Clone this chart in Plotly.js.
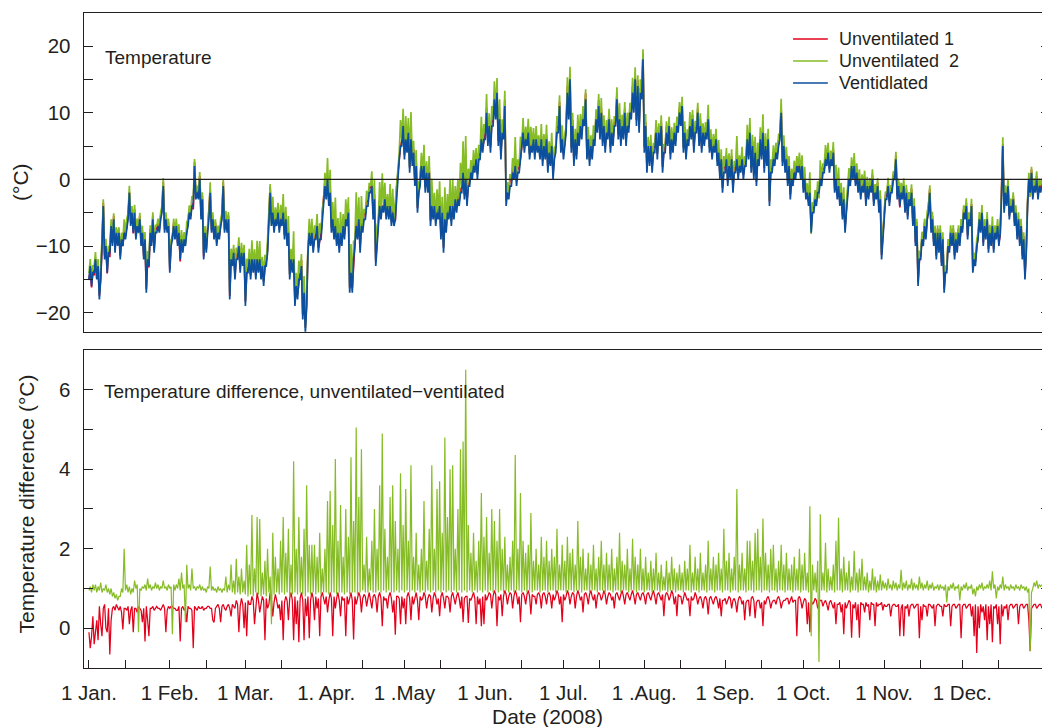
<!DOCTYPE html>
<html>
<head>
<meta charset="utf-8">
<script src="https://cdn.plot.ly/plotly-3.0.1.min.js"></script>
<style>
  html, body { margin: 0; padding: 0; overflow: hidden; background: #fff; }
  #chart { width: 1052px; height: 727px; }
</style>
</head>
<body>
<div id="chart"></div>
<script>
// Sampling: two readings per day (00:00 and 12:00), starting 1 Jan 2008.
const startDate = '2008-01-01T00:00:00';
const stepHours = 12;

// Ventilated sensor temperature (°C)
const ventilated = [
  // Jan
  -15,-13, -16,-14, -14,-12, -15,-13, -18,-15, -10,-4, -12,-10, -14,-11, -11,-7, -10,-6,
  -11,-8, -10,-8, -12,-9, -10,-8, -9,-7, -6,-2, -7,-5, -8,-5, -9,-7, -8,-6,
  -10,-8, -12,-9, -17,-12, -13,-8, -10,-6, -11,-8, -8,-7, -8,-6, -5,-1, -8,-6, -8,-7,
  // Feb
  -14,-10, -9,-7, -9,-7, -10,-8, -12,-9, -11,-9, -10,-8, -7,-5, -6,-4, -4,2,
  -3,-2, -3,0, -6,-3, -12,-8, -11,-8, -6,-2, -8,-6, -9,-7, -10,-8, -9,-7,
  -6,-1, -8,-6, -8,-6, -18,-12, -13,-11, -15,-12, -12,-10, -14,-11, -13,-11,
  // Mar
  -19,-14, -14,-12, -15,-12, -14,-12, -15,-12, -14,-12, -15,-13, -16,-13, -13,-11, -6,-2,
  -7,-5, -8,-6, -7,-5, -8,-6, -7,-5, -9,-6, -10,-8, -15,-12, -14,-12, -19,-16,
  -18,-15, -15,-13, -21,-17, -23,-19, -11,-8, -10,-8, -11,-9, -9,-7, -11,-9, -9,-6, -4,-1,
  // Apr
  -3,0, -4,-2, -8,-6, -9,-7, -10,-8, -11,-8, -10,-7, -9,-6, -7,-5, -17,-14,
  -17,-12, -10,-7, -9,-6, -11,-7, -8,-6, -6,-4, -4,-2, -2,-1, -6,-3, -13,-9,
  -7,-4, -6,-4, -5,-3, -6,-4, -6,-4, -7,-5, -7,-6, -2,0, 3,5, 5,8,
  // May
  3,6, 4,7, 1,6, 2,4, -1,2, -5,-2, -1,2, 0,2, -2,1, -2,1,
  -7,-4, -6,-4, -7,-5, -6,-4, -9,-5, -11,-6, -8,-5, -6,-4, -7,-4, -6,-3,
  -5,-3, -4,-2, -2,1, -3,0, -4,-1, -1,1, 0,2, 1,3, 0,3, 3,6, 4,6,
  // Jun
  6,10, 5,8, 4,8, 8,12, 9,13, 5,9, 3,7, 6,11, -4,-2, -3,-1,
  -1,1, 0,2, -1,1, 1,3, 4,7, 4,6, 5,7, 3,5, 4,6, 3,6,
  4,5, 3,6, 2,5, 3,6, 1,4, 2,5, 0,3, 4,7, 7,11, 4,6,
  // Jul
  3,5, 7,13, 9,15, 4,8, 2,6, 3,7, 5,8, 6,9, 8,12, 3,6,
  2,5, 3,6, 5,9, 7,11, 6,10, 5,8, 4,7, 6,9, 4,7, 5,8,
  8,12, 6,9, 5,8, 6,10, 5,8, 7,10, 9,13, 10,15, 8,14, 7,13, 12,18,
  // Aug
  4,8, 1,5, 2,5, 1,4, 4,7, 3,7, 5,8, 1,4, 4,7, 5,8,
  3,6, 4,7, 5,8, 7,10, 8,11, 4,7, 3,6, 5,8, 6,9, 4,7,
  7,10, 5,8, 4,7, 5,7, 6,9, 4,6, 3,5, 4,6, 2,4, 0,3, -2,1,
  // Sep
  1,3, -1,2, 0,3, -2,1, 1,3, 0,2, 1,3, 0,2, 2,6, 3,7,
  1,5, 0,4, -1,3, 2,6, 3,7, 1,5, 2,6, -4,1, 1,3, 2,4,
  3,5, 6,10, 2,5, 1,3, -1,2, -3,0, -1,1, 0,2, 1,2, 0,2,
  // Oct
  -2,0, -3,-2, -4,-2, -8,-5, -5,-3, -4,-2, -2,0, -1,1, 1,3, 2,4,
  1,3, 2,4, -2,0, -3,-1, -4,-2, -6,-3, -8,-5, -2,0, -1,2, 0,2,
  -1,1, -2,0, -3,-1, -2,0, -4,-1, -3,-1, -2,0, -4,-2, -3,-1, -5,-3, -12,-9,
  // Nov
  -5,-3, -3,-1, -4,-2, -2,0, 0,3, -3,-1, -4,-2, -3,-1, -5,-2, -6,-3,
  -4,-2, -7,-4, -10,-7, -16,-12, -12,-9, -10,-7, -9,-6, -5,-2, -8,-6, -10,-8,
  -12,-8, -11,-8, -13,-9, -17,-14, -14,-10, -11,-8, -10,-8, -12,-9, -11,-8, -10,-7,
  // Dec
  -8,-5, -6,-4, -9,-6, -7,-4, -14,-12, -13,-10, -9,-6, -8,-5, -10,-7, -9,-6,
  -11,-8, -10,-7, -11,-8, -9,-7, -10,-8, -3,5, -5,-2, -4,-1, -6,-4, -5,-3,
  -7,-5, -9,-6, -10,-7, -12,-9, -15,-11, -4,0, -2,1, -3,-1, -2,0, -3,-1, -2,-1
];

// Unventilated 1 minus ventilated (°C)
const diffUnvent1 = [
  // Jan
  -0.1,-0.5, -0.2,0.3, -0.4,0.0, 0.2,-0.3, 0.55,0.1, -0.2,0.5, 0.6,0.0, -0.1,0.5, -0.66,0.2, 0.5,0.55,
  0.45,0.6, 0.5,0.45, 0.55,0.4, -0.03,0.5, 0.5,0.45, 0.55,0.1, 0.45,0.55, -0.1,0.5, 0.5,0.4, 0.55,0.5,
  0.45,0.15, 0.5,-0.33, 0.55,0.2, -0.2,0.5, 0.5,0.55, 0.45,0.5, 0.55,0.5, 0.5,0.45, 0.55,0.6, 0.5,-0.1, 0.45,0.55,
  // Feb
  0.5,0.55, 0.55,0.5, 0.5,0.45, 0.45,0.55, -0.33,0.5, 0.55,0.45, 0.5,0.15, 0.55,0.5, 0.5,0.45, -0.5,0.55,
  0.5,0.45, 0.55,0.5, 0.5,0.55, 0.45,0.5, 0.5,0.55, 0.55,0.5, 0.5,0.2, 0.15,0.5, 0.55,0.6, 0.5,0.15,
  0.55,0.6, 0.5,0.45, 0.55,0.6, 0.5,0.3, 0.6,0.55, 0.5,0.7, 0.6,-0.1, 0.55,0.75, 0.6,0.0,
  // Mar
  0.65,-0.2, 0.7,0.6, 0.6,0.8, 0.7,0.1, 0.65,0.9, 0.7,0.4, 0.6,0.8, 0.7,-0.3, 0.75,0.5, 0.6,0.9,
  0.7,0.3, 0.65,0.85, 0.7,0.5, 0.6,0.2, 0.7,-0.3, 0.65,0.8, 0.7,0.2, 0.75,0.9, 0.7,-0.3, 0.8,0.1,
  0.7,-0.35, 0.75,0.9, 0.7,-0.3, 0.75,0.3, 0.8,-0.25, 0.7,0.9, 0.75,0.2, 0.8,0.5, 0.75,-0.2, 0.8,0.9, 0.75,0.6,
  // Apr
  0.8,0.4, 0.7,0.9, 0.75,-0.2, 0.8,0.5, 0.75,0.9, 0.7,0.3, 0.8,0.7, 0.75,-0.2, 0.8,0.6, 0.75,0.9,
  0.7,-0.28, 0.8,0.6, 0.75,0.9, 0.8,0.4, 0.75,0.85, 0.8,0.55, 0.75,0.9, 0.7,0.5, 0.8,0.85, 0.75,0.4,
  0.8,0.9, 0.75,0.05, 0.8,0.7, 0.75,0.5, 0.8,0.9, 0.75,0.4, 0.7,-0.16, 0.8,0.8, 0.75,0.1, 0.8,0.5,
  // May
  0.75,0.1, 0.8,0.9, 0.75,0.2, 0.8,0.6, 0.75,0.9, 0.7,0.2, 0.8,0.7, 0.75,0.9, 0.8,0.5, 0.75,0.85,
  0.8,0.4, 0.75,0.9, 0.8,0.6, 0.75,0.3, 0.8,0.9, 0.75,0.5, 0.8,0.8, 0.75,0.4, 0.8,0.9, 0.75,0.6,
  0.8,0.9, 0.75,0.5, 0.8,0.15, 0.75,0.8, 0.8,0.13, 0.75,0.7, 0.8,0.9, 0.75,0.1, 0.8,0.6, 0.75,0.05, 0.8,0.1,
  // Jun
  0.85,0.7, 0.8,0.9, 0.85,0.5, 0.8,0.95, 0.85,0.05, 0.8,0.7, 0.85,0.3, 0.8,0.95, 0.85,0.6, 0.8,0.9,
  0.85,0.5, 0.8,0.95, 0.85,0.6, 0.8,0.15, 0.85,0.9, 0.8,0.6, 0.85,0.95, 0.8,0.35, 0.85,0.8, 0.8,0.6,
  0.85,0.9, 0.8,0.5, 0.85,0.9, 0.8,0.6, 0.85,0.9, 0.8,0.5, 0.85,0.7, 0.8,0.95, 0.85,0.6, 0.8,0.15,
  // Jul
  0.85,0.7, 0.8,0.95, 0.85,0.6, 0.8,0.9, 0.85,0.5, 0.8,0.95, 0.85,0.7, 0.8,0.4, 0.85,0.9, 0.8,0.6,
  0.85,0.95, 0.8,0.7, 0.85,0.5, 0.8,0.9, 0.85,0.7, 0.8,0.95, 0.85,0.6, 0.8,0.9, 0.85,0.7, 0.8,0.5,
  0.85,0.9, 0.8,0.7, 0.85,0.95, 0.8,0.6, 0.85,0.9, 0.8,0.7, 0.85,0.95, 0.8,0.6, 0.85,0.9, 0.8,0.7, 0.85,0.9,
  // Aug
  0.8,0.6, 0.85,0.9, 0.8,0.7, 0.85,0.95, 0.8,0.6, 0.85,0.9, 0.8,0.7, 0.85,0.3, 0.8,0.9, 0.85,0.7,
  0.8,0.95, 0.85,0.6, 0.8,0.3, 0.85,0.8, 0.8,0.6, 0.75,0.9, 0.8,0.7, 0.75,0.3, 0.8,0.7, 0.75,0.9,
  0.8,0.6, 0.75,0.8, 0.7,0.5, 0.75,0.8, 0.7,0.35, 0.75,0.8, 0.7,0.6, 0.75,0.8, 0.7,0.5, 0.75,0.3, 0.7,0.7,
  // Sep
  0.75,0.6, 0.7,0.8, 0.75,0.5, 0.7,0.75, 0.65,0.4, 0.7,0.8, 0.75,0.6, 0.7,0.2, 0.65,0.7, 0.7,0.3,
  0.75,0.8, 0.7,0.25, 0.65,0.7, 0.7,0.5, 0.65,0.05, 0.7,0.6, 0.75,0.8, 0.7,0.5, 0.65,0.7, 0.7,0.6,
  0.75,0.8, 0.7,0.5, 0.65,0.7, 0.7,0.75, 0.75,0.6, 0.7,0.8, 0.65,0.7, 0.7,-0.2, 0.75,0.8, 0.7,0.5,
  // Oct
  0.65,0.75, 0.7,0.1, 0.65,-0.1, 0.7,0.6, 0.65,0.75, 0.7,0.5, 0.65,0.7, 0.7,0.55, 0.65,0.7, 0.6,0.45,
  0.65,0.7, 0.6,0.5, 0.65,0.1, 0.6,0.6, 0.65,0.4, 0.6,-0.15, 0.65,0.5, 0.6,0.7, 0.65,-0.24, 0.6,0.5,
  0.65,0.2, 0.6,-0.24, 0.65,0.6, 0.6,0.4, 0.65,0.55, 0.6,0.2, 0.65,0.6, 0.6,0.05, 0.65,0.55, 0.6,0.6, 0.65,0.45,
  // Nov
  0.6,0.55, 0.55,0.6, 0.6,0.3, 0.55,0.6, 0.6,0.55, 0.55,0.6, -0.2,0.5, 0.6,-0.2, 0.55,0.5, 0.6,0.3,
  0.55,0.6, 0.6,0.5, 0.55,0.6, 0.6,-0.25, 0.55,0.2, 0.6,0.55, 0.55,0.3, 0.6,0.6, 0.55,0.5, 0.6,0.05,
  0.55,0.6, 0.6,0.55, 0.55,0.3, 0.6,0.55, 0.55,0.6, 0.6,0.05, 0.55,0.6, 0.6,0.5, 0.55,0.6, 0.6,-0.25,
  // Dec
  0.55,0.6, 0.6,0.5, 0.55,0.6, 0.6,0.3, 0.55,-0.2, 0.6,-0.62, 0.55,0.0, 0.6,0.4, 0.55,0.2, 0.6,-0.3,
  0.55,0.1, 0.6,-0.35, 0.55,0.5, 0.6,0.1, 0.55,-0.4, 0.6,0.3, 0.55,0.5, 0.6,0.2, 0.55,0.6, 0.6,0.5,
  0.55,0.6, 0.6,0.1, 0.55,0.6, 0.6,0.5, 0.55,0.6, 0.6,0.2, -0.58,0.5, 0.55,0.6, 0.6,0.5, 0.55,0.6, 0.6,0.5
];

// Unventilated 2 minus ventilated (°C)
const diffUnvent2 = [
  // Jan
  0.95,1.05, 0.9,1.1, 0.95,1.1, 0.9,1.05, 0.95,1.15, 0.9,1.0, 0.95,1.1, 0.9,1.0, 0.85,1.0, 0.8,0.9,
  0.75,0.85, 0.7,0.8, 0.8,1.0, 0.9,2.0, 0.95,1.1, 0.9,1.05, 0.85,1.0, 0.9,1.2, 1.0,1.1, -0.1,1.0,
  0.95,1.05, 1.0,1.1, 0.95,1.25, 1.0,1.1, 0.95,1.05, 1.0,1.15, 1.0,1.1, 0.95,1.05, 1.0,1.2, 1.0,1.05, 0.95,1.1,
  // Feb
  1.0,1.05, -0.15,1.1, 0.95,1.1, 1.0,1.25, 0.95,1.4, 1.0,1.1, 0.15,1.6, 1.0,1.1, 0.95,1.5, 1.0,1.05,
  0.95,1.05, 1.0,1.1, 0.95,1.05, 0.95,1.0, 0.9,1.05, 1.0,1.55, 0.95,1.05, 0.95,1.0, 0.9,1.05, 0.95,1.0,
  0.9,1.0, 0.95,1.3, 0.9,1.1, 0.95,1.6, 0.9,1.2, 0.85,1.75, 0.9,1.3, 0.85,1.5, 0.9,1.2,
  // Mar
  0.85,2.1, 0.8,1.6, 0.85,2.85, 0.8,1.5, 0.9,2.8, 0.85,2.75, 0.8,1.4, 0.85,1.7, 0.8,2.0, 0.9,1.3,
  0.1,2.4, 0.85,1.8, 0.9,1.5, 0.85,2.2, 0.9,2.8, 0.85,1.9, 0.9,2.5, 0.8,1.6, 0.85,4.2, 0.9,2.0,
  0.85,2.8, 0.9,1.8, 0.85,2.5, 0.8,3.6, 0.9,2.1, 0.85,2.1, 0.9,2.1, 0.85,1.8, 0.9,2.4, 0.85,1.5, 0.9,2.0,
  // Apr
  0.9,3.2, 0.85,3.45, 0.9,2.6, 0.9,4.26, 0.85,2.2, 0.9,3.1, 0.9,1.8, 0.85,3.0, 0.9,2.3, 0.85,4.3,
  0.9,2.7, 0.9,5.05, 0.85,3.3, 0.9,4.5, 0.95,1.6, 0.9,2.3, 0.9,1.5, 0.95,2.2, 0.9,3.0, 0.9,2.0,
  0.95,3.6, 0.9,4.9, 0.95,2.5, 0.9,1.8, 0.95,3.3, 0.9,3.6, 0.9,2.7, 0.95,2.0, 0.9,3.9, 0.95,2.6,
  // May
  0.9,3.5, 0.95,2.2, 0.9,4.1, 0.95,1.8, 0.9,2.4, 0.95,1.6, 0.9,2.0, 0.95,3.2, 0.9,1.7, 0.95,2.5,
  0.9,4.1, 0.95,2.0, 0.9,3.5, 0.95,3.7, 0.9,2.4, 0.95,4.8, 0.9,2.8, 0.95,4.0, 0.9,4.1, 0.95,2.0,
  0.9,3.0, 0.95,4.5, 0.9,4.7, 0.95,6.5, 0.9,2.6, 0.95,1.9, 0.9,2.4, 0.95,1.7, 0.9,2.2, 0.95,3.4, 0.9,2.3,
  // Jun
  0.95,2.8, 0.9,1.9, 0.95,3.0, 0.9,2.7, 0.95,2.2, 0.9,3.0, 0.95,2.0, 0.9,2.3, 0.95,1.6, 0.9,1.8,
  0.95,2.2, 0.9,4.36, 0.95,2.0, 0.95,3.4, 0.9,2.2, 0.95,1.9, 0.9,2.1, 0.95,2.9, 0.9,1.7, 0.95,2.0,
  0.95,1.6, 0.9,2.3, 0.95,1.8, 0.95,2.2, 0.9,1.7, 0.95,2.0, 0.95,1.8, 0.9,2.5, 0.95,1.6, 0.95,2.1,
  // Jul
  0.95,1.7, 0.9,2.3, 0.95,1.9, 0.95,2.0, 0.9,1.6, 0.95,2.7, 0.95,1.8, 0.9,2.0, 0.95,1.5, 0.95,1.9,
  0.9,1.6, 0.95,2.1, 0.95,1.5, 0.9,1.8, 0.95,2.2, 0.95,1.6, 0.9,1.9, 0.95,1.6, 0.95,2.0, 0.9,1.5,
  0.95,1.8, 0.95,2.4, 0.9,1.7, 0.95,1.6, 0.95,2.0, 0.9,1.5, 0.95,2.25, 0.95,1.8, 0.9,1.6, 0.95,2.0, 0.95,1.5,
  // Aug
  0.9,1.8, 0.95,1.4, 0.95,1.7, 0.9,1.5, 0.95,1.9, 0.95,1.4, 0.9,1.6, 0.95,1.3, 0.95,1.7, 0.9,1.4,
  0.95,1.8, 0.95,1.5, 0.9,1.4, 0.95,1.6, 0.95,1.4, 0.9,1.7, 0.95,1.5, 0.95,2.1, 0.9,1.4, 0.95,1.8,
  0.95,1.5, 0.9,1.9, 0.95,1.4, 0.95,1.6, 0.9,2.2, 0.95,1.5, 0.95,1.8, 0.9,1.6, 0.95,1.9, 0.95,1.5, 0.9,2.5,
  // Sep
  0.95,1.7, 0.95,1.9, 0.9,1.5, 0.95,1.8, 0.95,3.5, 0.9,1.6, 0.95,1.9, 0.95,1.5, 0.9,2.2, 0.95,2.2,
  0.95,1.7, 0.9,2.4, 0.95,2.5, 0.95,1.8, 0.9,2.76, 0.95,1.9, 0.95,1.6, 0.9,2.0, 0.95,2.1, 0.95,1.5,
  0.9,1.7, 0.95,2.1, 0.95,1.6, 0.9,1.9, 0.95,1.5, 0.95,1.6, 0.9,1.8, 0.95,1.5, 0.95,2.0, 0.9,1.6,
  // Oct
  0.95,1.9, 0.95,1.4, 0.9,3.07, -0.2,1.6, 0.95,1.4, 0.9,1.7, -0.85,2.87, 0.95,1.4, 0.95,2.15, 0.9,1.5,
  0.95,1.3, 0.95,1.6, 0.9,2.2, 0.95,2.78, 0.95,1.5, 0.9,1.8, 0.95,1.4, 0.95,1.7, 0.9,1.3, 0.95,1.95,
  0.95,1.4, 0.9,1.5, 0.95,1.75, 0.95,1.3, 0.95,1.4, 0.9,1.2, 0.95,1.5, 0.95,1.3, 0.9,1.2, 0.95,1.35, 0.95,1.2,
  // Nov
  1.0,1.15, 0.95,1.25, 1.0,1.1, 0.95,1.2, 1.0,1.15, 0.95,1.1, 1.0,1.47, 0.95,1.15, 1.0,1.2, 0.95,1.1,
  1.0,1.25, 0.95,1.15, 1.0,1.1, 0.95,1.3, 1.0,1.15, 0.95,1.1, 1.0,1.2, 0.95,1.1, 1.0,1.15, 0.95,1.05,
  1.0,1.1, 0.95,1.1, 1.0,1.05, 0.95,1.1, 0.65,1.05, 0.95,1.1, 1.0,1.15, 0.95,1.05, 1.0,1.1, 0.7,1.05,
  // Dec
  0.95,1.1, 1.0,1.15, 0.95,1.05, 1.0,1.1, 0.85,1.0, 0.8,1.05, 0.95,1.1, 1.0,1.15, 0.95,1.05, 1.0,1.1,
  1.0,1.2, 0.95,1.43, 1.0,1.1, 0.75,1.05, 0.95,1.1, 1.0,1.3, 0.95,1.1, 1.0,1.05, 0.95,1.1, 1.0,1.05,
  0.95,1.1, 1.0,1.05, 0.95,1.1, 1.0,1.05, 0.95,1.05, 0.9,1.0, -0.57,0.9, 1.0,1.15, 1.05,1.2, 1.0,1.1, 1.05,1.1
];

// Axis tick positions and labels
const monthTickDates = [
  '2008-01-01','2008-01-15','2008-02-01','2008-02-15','2008-03-01','2008-03-15',
  '2008-04-01','2008-04-15','2008-05-01','2008-05-15','2008-06-01','2008-06-15',
  '2008-07-01','2008-07-15','2008-08-01','2008-08-15','2008-09-01','2008-09-15',
  '2008-10-01','2008-10-15','2008-11-01','2008-11-15','2008-12-01','2008-12-15'
];
const monthTickLabels = [
  '1 Jan.','','1 Feb.','','1 Mar.','','1. Apr.','','1 .May','','1 Jun.','',
  '1 Jul.','','1 .Aug.','','1 Sep.','','1 Oct.','','1 Nov.','','1 Dec.',''
];
const tempTickVals = [-20,-15,-10,-5,0,5,10,15,20];
const tempTickText = ['\u221220','','\u221210','','0','','10','','20'];
const diffTickVals = [0,1,2,3,4,5,6];
const diffTickText = ['0','','2','','4','','6'];

const seriesNames = ['Unventilated 1', 'Unventilated  2', 'Ventidlated'];
const seriesColors = ['#e3001b', '#86bc25', '#0b4f9e'];

// ---- build time axis ----
const n = Math.min(ventilated.length, diffUnvent1.length, diffUnvent2.length);
const t0 = new Date(startDate + 'Z').getTime();
function stamp(i) {
  const d = new Date(t0 + i * stepHours * 3600 * 1000);
  return d.toISOString().slice(0, 19).replace('T', ' ');
}
const times = [];
for (let i = 0; i < n; i++) times.push(stamp(i));

const vent = ventilated.slice(0, n);
const d1 = diffUnvent1.slice(0, n);
const d2 = diffUnvent2.slice(0, n);
const unvent1 = vent.map((v, i) => v + d1[i]);
const unvent2 = vent.map((v, i) => v + d2[i]);

const FONT = 'Liberation Sans, Arial, Helvetica, sans-serif';
const INK = '#231f20';
const TICK_SIZE = 20.5;

const traces = [
  // upper panel: temperatures
  { x: times, y: unvent1, xaxis: 'x2', yaxis: 'y2', mode: 'lines', name: seriesNames[0],
    line: { color: seriesColors[0], width: 1.7 }, showlegend: false },
  { x: times, y: unvent2, xaxis: 'x2', yaxis: 'y2', mode: 'lines', name: seriesNames[1],
    line: { color: seriesColors[1], width: 1.7 }, showlegend: false },
  { x: times, y: vent, xaxis: 'x2', yaxis: 'y2', mode: 'lines', name: seriesNames[2],
    line: { color: seriesColors[2], width: 1.7 }, showlegend: false },
  // lower panel: differences
  { x: times, y: d1, xaxis: 'x', yaxis: 'y', mode: 'lines', name: seriesNames[0],
    line: { color: seriesColors[0], width: 1.25 }, showlegend: false },
  { x: times, y: d2, xaxis: 'x', yaxis: 'y', mode: 'lines', name: seriesNames[1],
    line: { color: seriesColors[1], width: 1.2 }, showlegend: false }
];

const xRange = ['2007-12-30 02:24', '2009-01-03 14:24'];
const frame = { showline: true, linecolor: INK, linewidth: 1.4, mirror: true };

// legend drawn as short line samples with labels
const legendRows = [0.9603, 0.9267, 0.8931];
const shapes = [
  { type: 'line', xref: 'x2 domain', x0: 0, x1: 1, yref: 'y2', y0: 0, y1: 0,
    line: { color: INK, width: 1.2 }, layer: 'above' }
];
const annotations = [];
seriesNames.forEach((nm, k) => {
  shapes.push({ type: 'line', xref: 'paper', yref: 'paper', x0: 0.734, x1: 0.770,
    y0: legendRows[k], y1: legendRows[k], line: { color: seriesColors[k], width: 1.6 } });
  annotations.push({ xref: 'paper', yref: 'paper', x: 0.7795, y: legendRows[k],
    xanchor: 'left', yanchor: 'middle', showarrow: false, text: nm,
    font: { family: FONT, size: 18, color: INK } });
});
annotations.push(
  { xref: 'paper', yref: 'paper', x: 0.0197, y: 0.9328, xanchor: 'left', yanchor: 'middle',
    showarrow: false, text: 'Temperature', font: { family: FONT, size: 19, color: INK } },
  { xref: 'paper', yref: 'paper', x: 0.0187, y: 0.4218, xanchor: 'left', yanchor: 'middle',
    showarrow: false, text: 'Temperature difference, unventilated\u2212ventilated',
    font: { family: FONT, size: 19, color: INK } },
  { xref: 'paper', yref: 'paper', x: -0.0652, y: 0.742, xanchor: 'center', yanchor: 'middle',
    showarrow: false, text: '(\u00b0C)', textangle: -90, font: { family: FONT, size: 21, color: INK } },
  { xref: 'paper', yref: 'paper', x: -0.059, y: 0.2496, xanchor: 'center', yanchor: 'middle',
    showarrow: false, text: 'Temperature difference (\u00b0C)', textangle: -90,
    font: { family: FONT, size: 21, color: INK } },
  { xref: 'paper', yref: 'paper', x: 0.4803, y: -0.0748, xanchor: 'center', yanchor: 'middle',
    showarrow: false, text: 'Date (2008)', font: { family: FONT, size: 21, color: INK } }
);

const layout = {
  width: 1052, height: 727,
  margin: { l: 84, r: 2, t: 13, b: 59 },
  paper_bgcolor: '#fff', plot_bgcolor: '#fff',
  font: { family: FONT, size: TICK_SIZE, color: INK },
  showlegend: false,
  xaxis: Object.assign({ type: 'date', range: xRange, domain: [0, 1], anchor: 'y',
    tickmode: 'array', tickvals: monthTickDates, ticktext: monthTickLabels,
    ticks: 'inside', ticklen: 8, tickwidth: 1, tickcolor: INK, ticklabelstandoff: 6,
    tickfont: { family: FONT, size: TICK_SIZE, color: INK }, showgrid: false, zeroline: false }, frame),
  yaxis: Object.assign({ range: [-1, 7], domain: [0, 0.4855], anchor: 'x',
    tickmode: 'array', tickvals: diffTickVals, ticktext: diffTickText,
    ticks: 'inside', ticklen: 9, tickwidth: 1, tickcolor: INK, ticklabelstandoff: 8,
    tickfont: { family: FONT, size: TICK_SIZE, color: INK }, showgrid: false, zeroline: false }, frame,
    { mirror: 'ticks' }),
  xaxis2: Object.assign({ type: 'date', range: xRange, domain: [0, 1], anchor: 'y2',
    showticklabels: false, ticks: '', showgrid: false, zeroline: false }, frame),
  yaxis2: Object.assign({ range: [-22.85, 24.95], domain: [0.5134, 1], anchor: 'x2',
    tickmode: 'array', tickvals: tempTickVals, ticktext: tempTickText,
    ticks: 'inside', ticklen: 9, tickwidth: 1, tickcolor: INK, ticklabelstandoff: 8,
    tickfont: { family: FONT, size: TICK_SIZE, color: INK }, showgrid: false, zeroline: false }, frame,
    { mirror: 'ticks' }),
  shapes: shapes,
  annotations: annotations
};

Plotly.newPlot('chart', traces, layout, { staticPlot: true, displayModeBar: false });
</script>
</body>
</html>
